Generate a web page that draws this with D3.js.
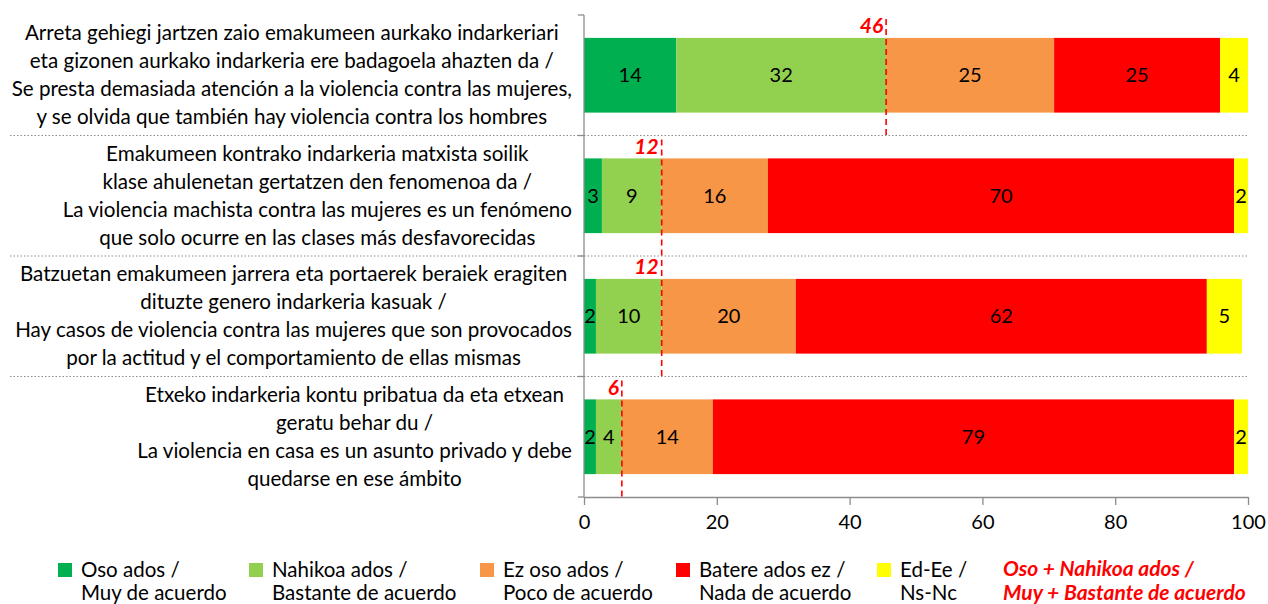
<!DOCTYPE html>
<html>
<head>
<meta charset="utf-8">
<script src="https://cdn.jsdelivr.net/npm/d3@7"></script>
<style>
  body { margin: 0; background: #fff; }
  text { font-family: Lato, "Liberation Sans", sans-serif; }
</style>
</head>
<body>
<svg id="chart" width="1268" height="604"></svg>
<script>
// statements (one per row, lines as shown)
var statements = [
  ["Arreta gehiegi jartzen zaio emakumeen aurkako indarkeriari",
   "eta gizonen aurkako indarkeria ere badagoela ahazten da /",
   "Se presta demasiada atención a la violencia contra las mujeres,",
   "y se olvida que también hay violencia contra los hombres"],
  ["Emakumeen kontrako indarkeria matxista soilik",
   "klase ahulenetan gertatzen den fenomenoa da /",
   "La violencia machista contra las mujeres es un fenómeno",
   "que solo ocurre en las clases más desfavorecidas"],
  ["Batzuetan emakumeen jarrera eta portaerek beraiek eragiten",
   "dituzte genero indarkeria kasuak /",
   "Hay casos de violencia contra las mujeres que son provocados",
   "por la actitud y el comportamiento de ellas mismas"],
  ["Etxeko indarkeria kontu pribatua da eta etxean",
   "geratu behar du /",
   "La violencia en casa es un asunto privado y debe",
   "quedarse en ese ámbito"]
];

var seriesNames = [
  ["Oso ados /", "Muy de acuerdo"],
  ["Nahikoa ados /", "Bastante de acuerdo"],
  ["Ez oso ados /", "Poco de acuerdo"],
  ["Batere ados ez /", "Nada de acuerdo"],
  ["Ed-Ee /", "Ns-Nc"]
];
var sumName = ["Oso + Nahikoa ados /", "Muy + Bastante de acuerdo"];

var osoAdos     = [13.9, 2.7, 1.8, 1.8];
var nahikoaAdos = [31.6, 9.0, 9.9, 3.9];
var ezOsoAdos   = [25.3, 16.0, 20.2, 13.7];
var batereAdos  = [25.0, 70.2, 61.9, 78.5];
var edEe        = [4.2, 2.1, 5.3, 2.1];

var colors = ["#00B050", "#92D050", "#F79646", "#FF0000", "#FFFF00"];
var xTicks = [0, 20, 40, 60, 80, 100];

var series = [osoAdos, nahikoaAdos, ezOsoAdos, batereAdos, edEe];
var rows = statements.map(function(s, i){
  return series.map(function(arr){ return arr[i]; });
});

var svg = d3.select('#chart');
var margin = {left: 584, right: 20, top: 15, bottom: 107};
var W = 1268, H = 604;

var x = d3.scaleLinear().domain([0, 100]).range([margin.left, W - margin.right]);
var y = d3.scaleBand().domain(d3.range(rows.length))
          .range([margin.top, H - margin.bottom])
          .paddingInner(0.38).paddingOuter(0.19);

// row band edges
function edge(i){ return margin.top + i * (H - margin.bottom - margin.top) / rows.length; }

// dotted separators between rows
for(var i = 1; i < rows.length; i ++){
  svg.append('line')
     .attr('x1', 10).attr('x2', x(100))
     .attr('y1', edge(i)).attr('y2', edge(i))
     .style('stroke', '#8c8c8c')
     .style('stroke-width', 1.2)
     .style('stroke-dasharray', '1.5 2');
}

// stacked bars
rows.forEach(function(vals, r){
  var g = svg.append('g').attr('class', 'row');
  var acc = 0;
  vals.forEach(function(v, k){
    g.append('rect')
     .attr('x', x(acc))
     .attr('y', y(r))
     .attr('width', x(acc + v) - x(acc))
     .attr('height', y.bandwidth())
     .style('fill', colors[k]);
    g.append('text')
     .attr('x', (x(acc) + x(acc + v)) / 2)
     .attr('y', y(r) + y.bandwidth() / 2)
     .attr('dy', '0.35em')
     .attr('text-anchor', 'middle')
     .style('font-size', '20px')
     .style('fill', '#000')
     .text(Math.round(v));
    acc += v;
  });
});

// axes
var xAxis = svg.append('g')
   .attr('transform', 'translate(0,' + (H - margin.bottom) + ')')
   .call(d3.axisBottom(x).tickValues(xTicks).tickSize(8).tickSizeOuter(0));
xAxis.select('.domain').style('stroke', '#8c8c8c').style('stroke-width', 1.3);
xAxis.selectAll('.tick line').style('stroke', '#8c8c8c').style('stroke-width', 1.3);
xAxis.selectAll('.tick text')
   .attr('y', 18)
   .style('font-size', '20px')
   .style('font-family', 'Lato, sans-serif')
   .style('fill', '#000');

svg.append('line')
   .attr('x1', x(0)).attr('x2', x(0))
   .attr('y1', edge(0)).attr('y2', edge(rows.length))
   .style('stroke', '#8c8c8c').style('stroke-width', 1.3);
for(var i = 0; i <= rows.length; i ++){
  svg.append('line')
     .attr('x1', x(0) - 6).attr('x2', x(0))
     .attr('y1', edge(i)).attr('y2', edge(i))
     .style('stroke', '#8c8c8c').style('stroke-width', 1.3);
}

// dashed total line for Oso + Nahikoa
rows.forEach(function(vals, r){
  var tot = vals[0] + vals[1];
  svg.append('line')
     .attr('x1', x(tot)).attr('x2', x(tot))
     .attr('y1', edge(r) + 4).attr('y2', edge(r + 1))
     .style('stroke', '#FF0000')
     .style('stroke-width', 1.6)
     .style('stroke-dasharray', '6 4');
  svg.append('text')
     .attr('x', x(tot) - 3)
     .attr('y', edge(r) + 18)
     .attr('text-anchor', 'end')
     .style('font-size', '21px')
     .style('font-weight', 'bold')
     .style('font-style', 'italic')
     .style('fill', '#FF0000')
     .text(Math.round(tot));
});

// category labels: block of centred lines, right aligned to the axis
var lineH = 28;
statements.forEach(function(lines, r){
  var g = svg.append('g');
  var cy = y(r) + y.bandwidth() / 2;
  var ts = lines.map(function(l, j){
    return g.append('text')
      .attr('y', cy + (j - (lines.length - 1) / 2) * lineH)
      .attr('dy', '0.35em')
      .attr('text-anchor', 'middle')
      .style('font-size', '20.6px')
      .style('fill', '#000')
      .text(l);
  });
  var maxW = d3.max(ts, function(t){ return t.node().getComputedTextLength(); });
  ts.forEach(function(t){ t.attr('x', 572 - maxW / 2); });
});

// legend
var legX = [58, 249, 480, 676, 877];
var legend = svg.append('g');
seriesNames.forEach(function(nm, k){
  legend.append('rect')
    .attr('x', legX[k]).attr('y', 563)
    .attr('width', 14).attr('height', 14)
    .style('fill', colors[k]);
  nm.forEach(function(l, j){
    legend.append('text')
      .attr('x', legX[k] + 23)
      .attr('y', 577 + j * 23)
      .style('font-size', '20.5px')
      .style('fill', '#000')
      .text(l);
  });
});
sumName.forEach(function(l, j){
  legend.append('text')
    .attr('x', 1003)
    .attr('y', 576 + j * 24)
    .style('font-size', '21px')
    .style('font-weight', 'bold')
    .style('font-style', 'italic')
    .style('fill', '#FF0000')
    .text(l);
});
</script>
</body>
</html>
